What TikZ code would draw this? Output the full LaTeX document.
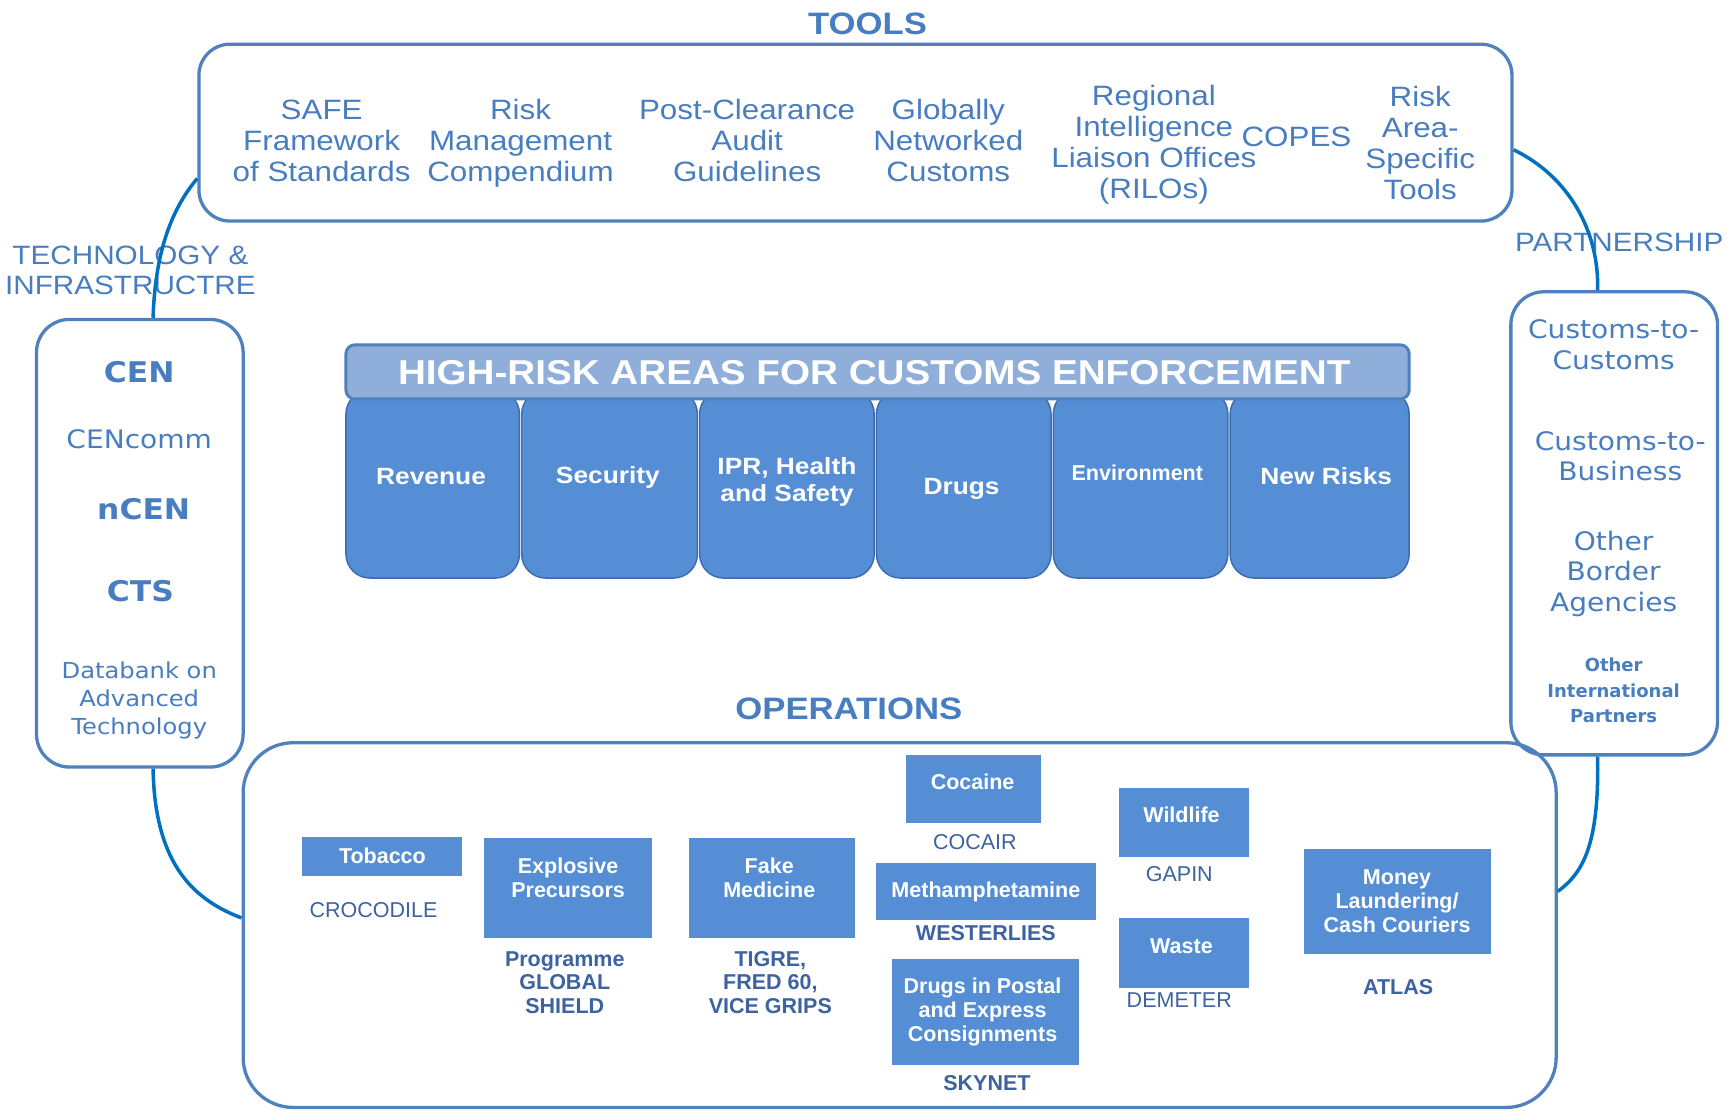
\documentclass[tikz,border=0pt]{standalone}
\usepackage{fontspec}
\setmainfont[FakeStretch=1.12]{Liberation Sans}
\newfontfamily\opsfont{Liberation Sans}
\newfontfamily\dvfont[FakeStretch=1.1]{DejaVu Sans}
\newfontfamily\dvplain{DejaVu Sans}
\usetikzlibrary{fit,calc}
\definecolor{txtblue}{RGB}{72,125,192}
\definecolor{lblblue}{RGB}{60,98,160}
\definecolor{boxline}{RGB}{79,129,189}
\definecolor{conn}{RGB}{0,112,192}
\definecolor{hrfill}{RGB}{85,142,213}
\definecolor{hrline}{RGB}{62,108,176}
\definecolor{hdrfill}{RGB}{143,174,218}
\definecolor{opsfill}{RGB}{85,142,213}
\newcommand\myfs[2]{\fontsize{#1}{#2}\selectfont}
\begin{document}
\begin{tikzpicture}[x=1.1052pt,y=-1.1052pt,
 boxframe/.style={draw=boxline, line width=3.3pt, inner sep=0pt},
 conline/.style={draw=conn, line width=3.5pt},
 tooltxt/.style={text=txtblue, align=center, font=\myfs{28}{31}},
 secttxt/.style={text=txtblue, font=\bfseries\myfs{31}{36}},
 sidetxt/.style={text=txtblue, align=center, font=\myfs{26.5}{30}},
 hrbox/.style={draw=hrline, line width=1.5pt, fill=hrfill, rounded corners=24pt, inner sep=0pt},
 hrtxt/.style={text=white, align=center, font=\bfseries\myfs{23.5}{27.5}},
 hdrtxt/.style={text=white, font=\bfseries\myfs{34.5}{38}},
 opsbox/.style={fill=opsfill, inner sep=0pt},
 opstxt/.style={text=white, align=center, font=\opsfont\bfseries\myfs{21.5}{24}},
 lbl/.style={text=lblblue, align=center, font=\opsfont\myfs{21.5}{23.8}},
 lblb/.style={text=lblblue, align=center, font=\opsfont\bfseries\myfs{21.5}{23.8}},
 techb/.style={text=txtblue, font=\dvfont\bfseries\myfs{28.5}{32}},
 techtxt/.style={text=txtblue, align=center, font=\dvfont\myfs{25.5}{28}},
 techsm/.style={text=txtblue, align=center, font=\dvfont\myfs{22}{28}},
 parttxt/.style={text=txtblue, align=center, font=\dvfont\myfs{25.5}{30.5}},
 partsm/.style={text=txtblue, align=center, font=\dvplain\bfseries\myfs{18}{25.5}}
]
\useasboundingbox (0,0) rectangle (1568,1005);

% ---------- TOOLS ----------
\node[secttxt] (toolsT) at (785,22) {TOOLS};
\node[boxframe, rounded corners=31pt, fit={(180,40) (1368,200)}] (tools) {};
\node[tooltxt] (t1) at (291,127.5) {SAFE\\Framework\\of Standards};
\node[tooltxt] (t2) at (471,130) {Risk\\Management\\Compendium};
\node[tooltxt] (t3) at (676,127.5) {Post-Clearance\\Audit\\Guidelines};
\node[tooltxt] (t4) at (858,127.5) {Globally\\Networked\\Customs};
\node[tooltxt] (t5) at (1044,131) {Regional\\Intelligence\\Liaison Offices\\(RILOs)};
\node[tooltxt] (t6) at (1173,124) {COPES};
\node[tooltxt] (t7) at (1285,129.5) {Risk\\Area-\\Specific\\Tools};

% ---------- TECHNOLOGY ----------
\node[sidetxt] (techT) at (118,245) {TECHNOLOGY \&\\INFRASTRUCTRE};
\node[boxframe, rounded corners=33pt, fit={(33,289) (220,694)}] (tech) {};
\node[techb] (cen) at (126,337) {CEN};
\node[techtxt] (cencomm) at (126,397.5) {CENcomm};
\node[techb] (ncen) at (130,461) {nCEN};
\node[techb] (cts) at (127,535) {CTS};
\node[techsm] (datab) at (126,633.5) {Databank on\\Advanced\\Technology};

% ---------- PARTNERSHIP ----------
\node[sidetxt] (partT) at (1465,219) {PARTNERSHIP};
\node[boxframe, rounded corners=33pt, fit={(1367,264) (1554,683)}] (part) {};
\node[parttxt] (p1) at (1460,312) {Customs-to-\\Customs};
\node[parttxt] (p2) at (1466,413) {Customs-to-\\Business};
\node[parttxt] (p3) at (1460,519) {Other\\Border\\Agencies};
\node[partsm] (p4) at (1460,625) {Other\\International\\Partners};

% ---------- HIGH-RISK AREAS ----------
\node[hrbox, fit={(313,353) (470,523)}] (rev) {};
\node[hrbox, fit={(472,353) (631,523)}] (sec) {};
\node[hrbox, fit={(633,353) (791,523)}] (ipr) {};
\node[hrbox, fit={(793,353) (951,523)}] (drg) {};
\node[hrbox, fit={(953,353) (1111,523)}] (env) {};
\node[hrbox, fit={(1113,353) (1275,523)}] (newr) {};
\node[draw=boxline, line width=3pt, fill=hdrfill, rounded corners=9pt, inner sep=0pt, fit={(313,312) (1275,361)}] (hdr) {};
\node[hdrtxt] (hdrT) at (791,337) {HIGH-RISK AREAS FOR CUSTOMS ENFORCEMENT};
\node[hrtxt] (revT) at (390,431) {Revenue};
\node[hrtxt] (secT) at (550,432) {Security};
\node[hrtxt] (iprT) at (712,436) {IPR, Health\\and Safety};
\node[hrtxt] (drgT) at (870,442) {Drugs};
\node[hrtxt, font=\opsfont\bfseries\myfs{21.5}{24}] (envT) at (1029,428) {Environment};
\node[hrtxt] (newT) at (1200,431) {New Risks};

% ---------- OPERATIONS ----------
\node[secttxt] (opsT) at (768,641) {OPERATIONS};
\node[boxframe, rounded corners=50pt, fit={(220,672) (1408,1002)}] (ops) {};

\node[opsbox, fit={(273,757) (418,793)}] (tob) {};
\node[opstxt] (tobT) at (346,774) {Tobacco};
\node[lbl] (tobL) at (338,823) {CROCODILE};

\node[opsbox, fit={(438,758) (590,849)}] (expl) {};
\node[opstxt] (explT) at (514,794) {Explosive\\Precursors};
\node[lblb] (explL) at (511,889) {Programme\\GLOBAL\\SHIELD};

\node[opsbox, fit={(623,758) (774,849)}] (fake) {};
\node[opstxt] (fakeT) at (696,794) {Fake\\Medicine};
\node[lblb] (fakeL) at (697,889) {TIGRE,\\FRED 60,\\VICE GRIPS};

\node[opsbox, fit={(820,683) (942,745)}] (coc) {};
\node[opstxt] (cocT) at (880,707) {Cocaine};
\node[lbl] (cocL) at (882,762) {COCAIR};

\node[opsbox, fit={(793,781) (992,832)}] (meth) {};
\node[opstxt] (methT) at (892,807) {Methamphetamine};
\node[lblb] (methL) at (892,844) {WESTERLIES};

\node[opsbox, fit={(807,868) (976,964)}] (post) {};
\node[opstxt] (postT) at (889,916) {Drugs in Postal\\and Express\\Consignments};
\node[lblb] (postL) at (893,980) {SKYNET};

\node[opsbox, fit={(1012,713) (1130,775)}] (wild) {};
\node[opstxt] (wildT) at (1069,737) {Wildlife};
\node[lbl] (wildL) at (1067,791) {GAPIN};

\node[opsbox, fit={(1012,831) (1130,894)}] (waste) {};
\node[opstxt] (wasteT) at (1069,856) {Waste};
\node[lbl] (wasteL) at (1067,905) {DEMETER};

\node[opsbox, fit={(1180,768) (1349,863)}] (money) {};
\node[opstxt] (moneyT) at (1264,815) {Money\\Laundering/\\Cash Couriers};
\node[lblb] (moneyL) at (1265,893) {ATLAS};

% ---------- CONNECTORS ----------
\draw[conline] ($(tools.north west)+(0,123)$) .. controls (150,195) and (140,240) .. ($(tech.north west)+(107,0)$);
\draw[conline] ($(tech.south west)+(107,0)$) .. controls (140,785) and (178,815) .. ($(ops.north west)+(0,160)$);
\draw[conline] ($(tools.north east)+(0,97)$) .. controls (1420,160) and (1447,210) .. ($(part.north west)+(80,0)$);
\draw[conline] ($(part.south west)+(80,0)$) .. controls (1447,765) and (1432,790) .. ($(ops.north east)+(0,136)$);
\end{tikzpicture}
\end{document}
